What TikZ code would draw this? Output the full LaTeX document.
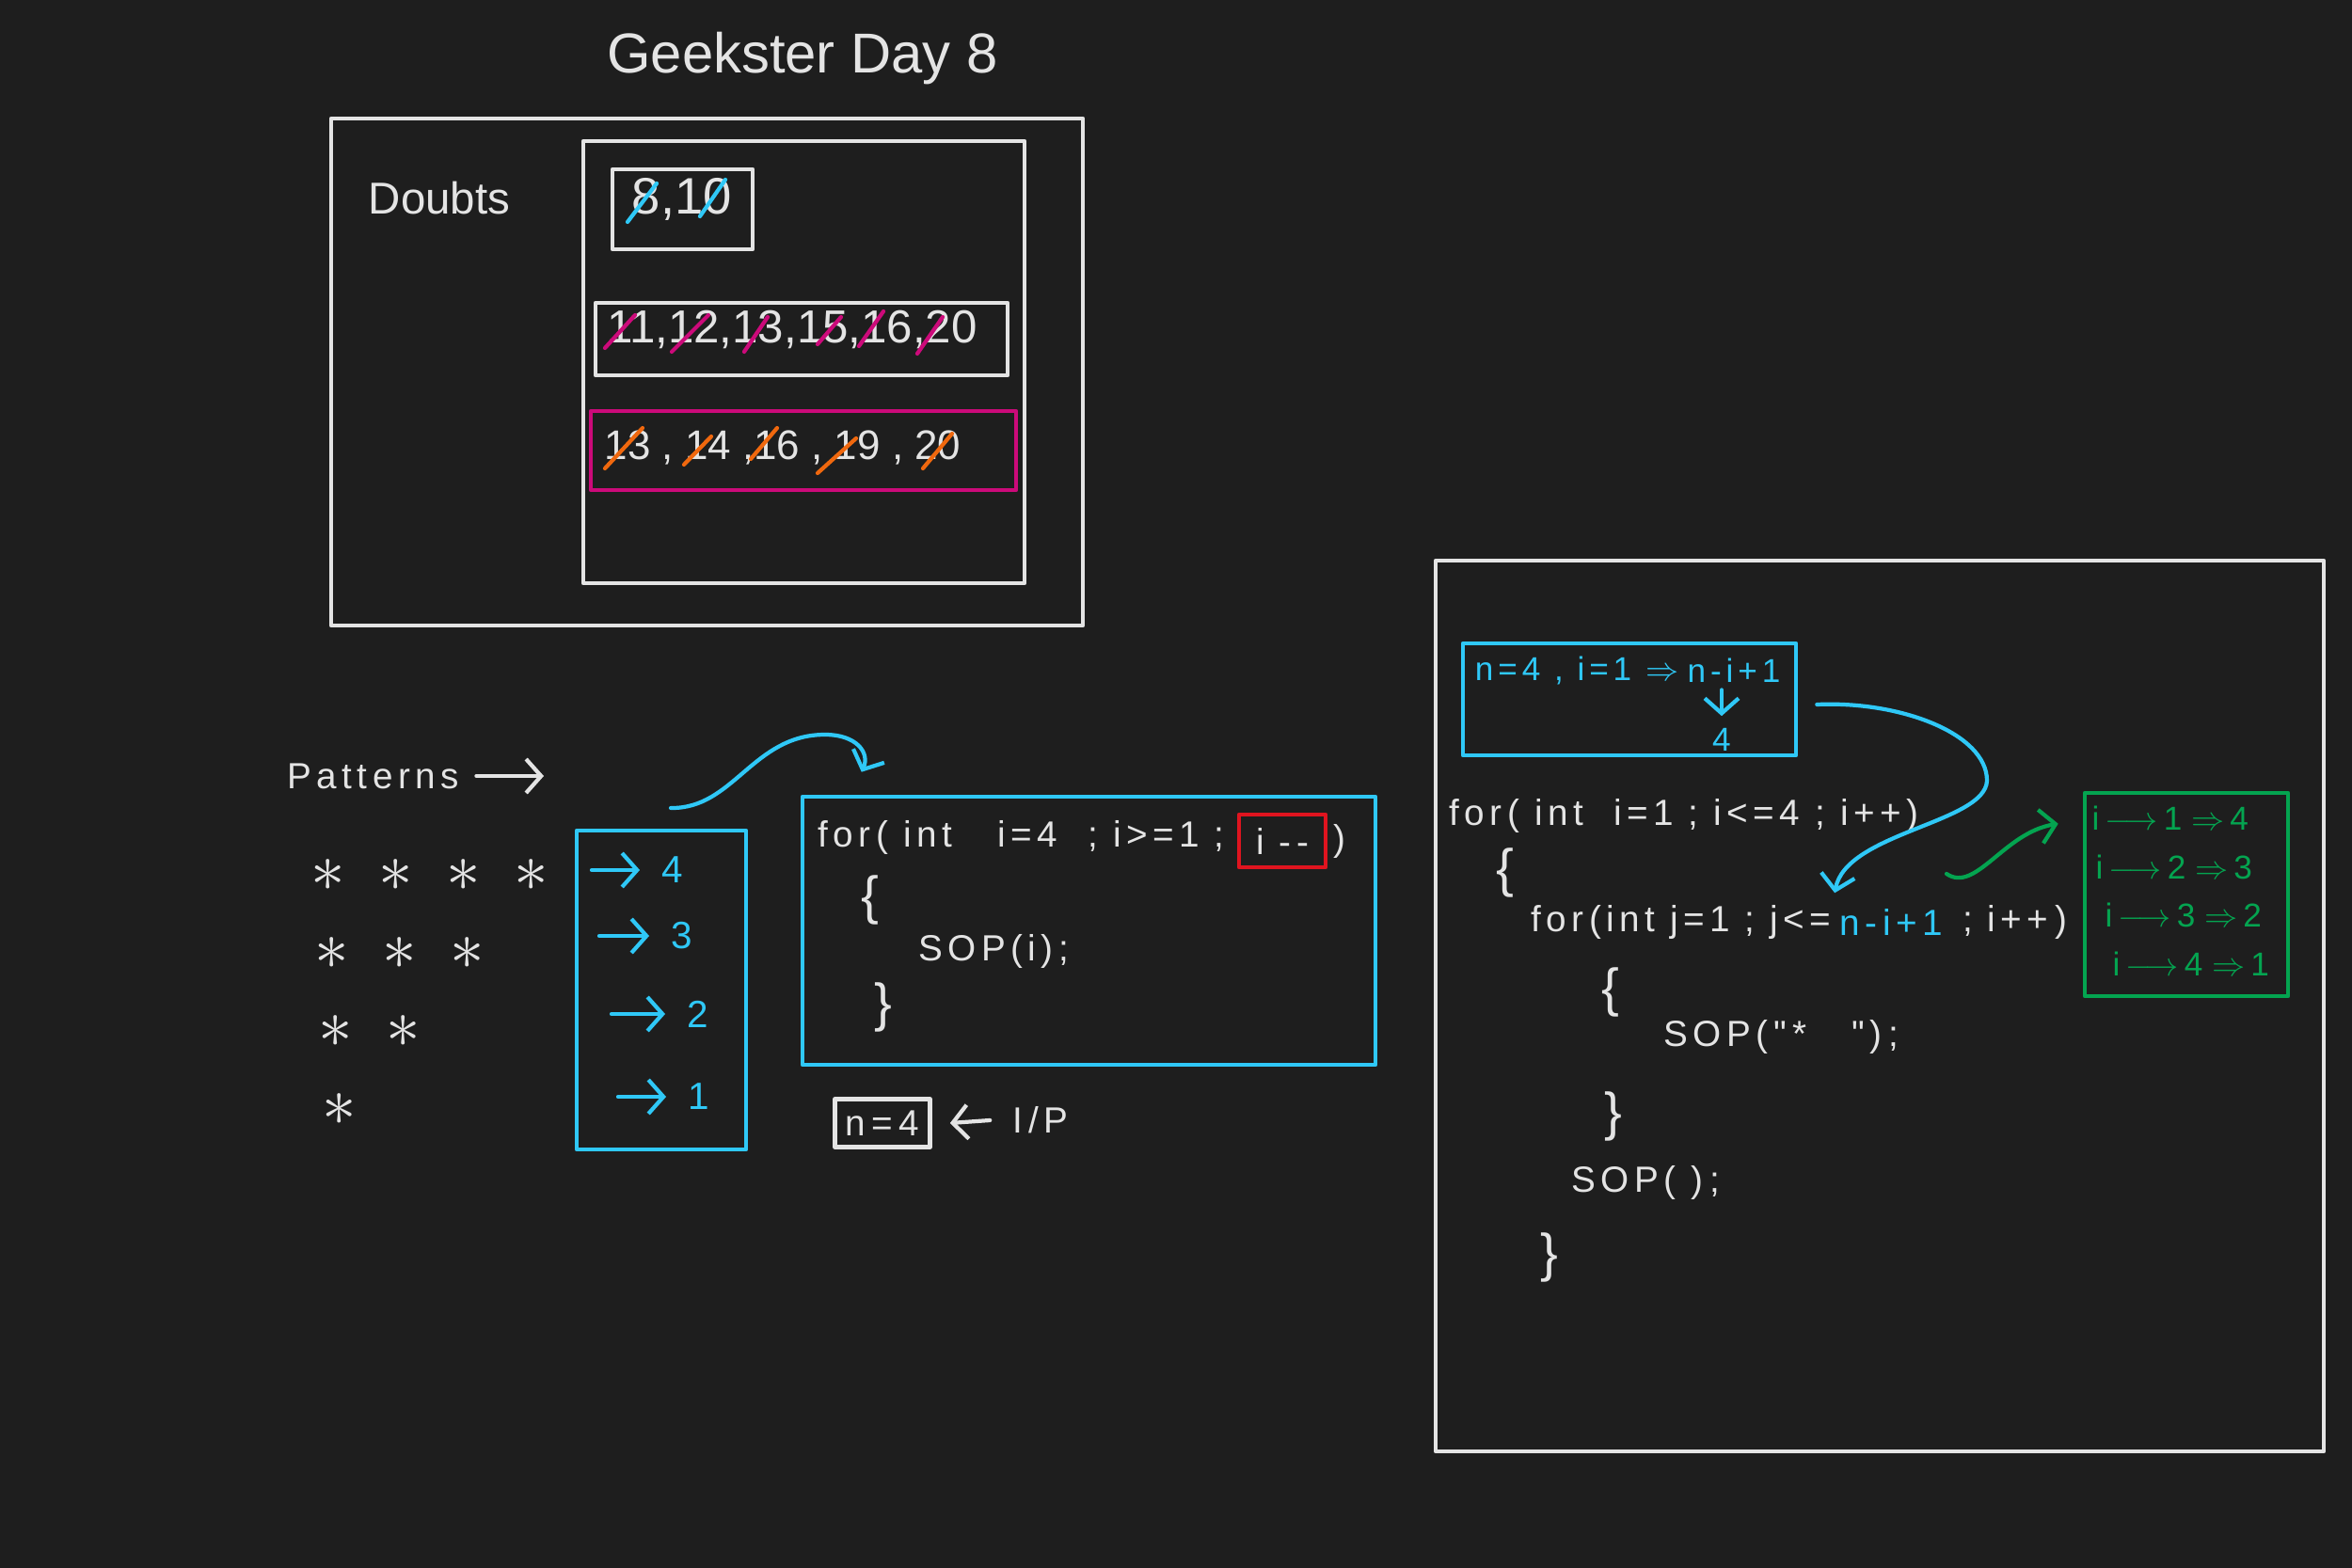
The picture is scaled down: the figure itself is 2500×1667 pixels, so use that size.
\documentclass[tikz,border=0pt]{standalone}
\usepackage{fontspec}
\setmainfont{Liberation Sans}
\newfontfamily\handfont[LetterSpace=14]{Liberation Sans}
\usetikzlibrary{arrows.meta,positioning,fit}

\definecolor{boardbg}{HTML}{1E1E1E}
\definecolor{chalk}{HTML}{E4E4E4}
\definecolor{skyink}{HTML}{2FC8F7}
\definecolor{rosebox}{HTML}{CC0A7A}
\definecolor{amberink}{HTML}{F0680E}
\definecolor{alertred}{HTML}{E0141F}
\definecolor{leafink}{HTML}{04A450}

\begin{document}
\begin{tikzpicture}[x=0.01cm,y=-0.01cm,
    boxline/.style={draw=#1, line width=1.3pt, line join=round, inner sep=0pt},
    boxline/.default=chalk,
    stroke/.style={draw=#1, line width=1.2pt, line cap=round},
    stroke/.default=chalk,
    barb/.style={-{Straight Barb[length=1.6mm,width=3.6mm]}},
    ink/.style={text=#1, inner sep=0pt},
    ink/.default=chalk,
    codetext/.style={ink=#1, font=\handfont\fontsize{11}{13}\selectfont, anchor=west},
    codetext/.default=chalk,
    bracetext/.style={ink, font=\handfont\fontsize{16}{18}\selectfont},
    starmark/.style={ink, font=\fontsize{22}{22}\selectfont},
  ]
  \fill[boardbg] (0,0) rectangle (2500,1667);
  \useasboundingbox (0,0) rectangle (2500,1667);

  % title and doubts
  \node[ink, font=\fontsize{17}{20}\selectfont] (title) at (853,62) {Geekster Day 8};
  \node[boxline, fit={(352,126)(1151,665)}] (doubtframe) {};
  \node[ink, font=\fontsize{13.5}{16}\selectfont] (doubts) at (467,211) {Doubts};
  \node[boxline, fit={(620,150)(1089,620)}] (doubtlist) {};
  \node[boxline, fit={(651,180)(800,265)}] (pairbox) {};
  \node[ink, font=\fontsize{15.5}{18}\selectfont] (pair) at (725,212) {8,10};
  \node[boxline, fit={(633,322)(1071,399)}] (setbox) {};
  \node[ink, font=\fontsize{14}{17}\selectfont] (setnums) at (842,350) {11,12,13,15,16,20};
  \node[boxline=rosebox, fit={(628,437)(1080,521)}] (recheckbox) {};
  \node[ink, font=\fontsize{12.5}{15}\selectfont] (recheck) at (832,476) {13 , 14 ,16 , 19 , 20};

  % strike-outs
  \foreach \xa/\ya/\xb/\yb in {667/236/698/195, 744/230/771/191}
    \draw[stroke=skyink] (\xa,\ya) -- (\xb,\yb);
  \foreach \xa/\ya/\xb/\yb in {643/370/675/335, 714/374/753/335, 791/374/816/337,
      869/366/894/337, 913/368/939/331, 975/376/1002/337}
    \draw[stroke=rosebox] (\xa,\ya) -- (\xb,\yb);
  \foreach \xa/\ya/\xb/\yb in {643/498/683/455, 727/494/756/464, 798/488/826/455,
      869/503/910/466, 981/498/1012/461}
    \draw[stroke=amberink] (\xa,\ya) -- (\xb,\yb);

  % pattern
  \node[codetext] (patterns) at (305,825) {Patterns};
  \coordinate (patternstip) at (578,825);
  \draw[stroke, barb] ([xshift=1.8mm]patterns.east) -- (patternstip);
  \foreach \r in {1,...,4} {
    \pgfmathtruncatemacro\n{5-\r}
    \foreach \k in {1,...,\n}
      \node[starmark] (star\r\k) at ({345+4*\r+72*(\k-1)},{931+83*(\r-1)}) {$\ast$};
  }

  % row counts
  \node[boxline=skyink, fit={(613,883)(793,1222)}] (countbox) {};
  \foreach \v/\xa/\xd/\y in {4/629/715/925, 3/637/725/995, 2/650/742/1078, 1/657/743/1166} {
    \coordinate (cs\v) at (\xa,\y);
    \node[ink=skyink, font=\fontsize{11.5}{13}\selectfont] (cnt\v) at (\xd,\y) {\v};
    \draw[stroke=skyink, barb] (cs\v) -- ([xshift=-2.3mm]cnt\v.west);
  }

  % first loop
  \node[boxline=skyink, fit={(853,847)(1462,1132)}] (codebox) {};
  \coordinate (loopcurve) at (713,859);
  \draw[stroke=skyink, barb] (loopcurve) .. controls (780,860) and (800,781) .. (877,781)
    .. controls (910,781) and (925,800) .. ([xshift=0.65cm,yshift=0.24cm]codebox.north west);
  \node[codetext] (loophead) at (869,890) {for( int\ \ \ i=4\ \ ; i>=1\ ;};
  \node[boxline=alertred, minimum width=0.92cm, minimum height=0.56cm,
    ink, font=\handfont\fontsize{11}{13}\selectfont] (decr) at (1363,894) {i -{}-};
  \node[codetext, right=0.05cm of decr] (loopclose) {)};
  \node[bracetext] (open1) at (925,957) {\{};
  \node[codetext] (printi) at (976,1011) {SOP(i);};
  \node[bracetext] (close1) at (939,1071) {\}};
  \node[boxline, minimum width=1.01cm, minimum height=0.51cm,
    ink, font=\handfont\fontsize{11}{13}\selectfont] (input) at (938,1194) {n\,=\,4};
  \node[ink, font=\handfont\fontsize{11}{13}\selectfont] (iplabel) at (1106,1191) {I/P};
  \draw[stroke, barb] ([xshift=-2.4mm]iplabel.west) -- ([xshift=1.9mm]input.east);

  % nested loops
  \node[boxline, fit={(1526,596)(2470,1543)}] (nestframe) {};
  \node[boxline=skyink, fit={(1555,684)(1909,803)}] (calcbox) {};
  \node[ink=skyink, font=\handfont\fontsize{10}{12}\selectfont] (calcexpr) at (1843,713) {n-i+1};
  \node[ink=skyink, font=\handfont\fontsize{10}{12}\selectfont, left=0.08cm of calcexpr] (calcin) {n=4 , i=1 $\Rightarrow$};
  \node[ink=skyink, font=\handfont\fontsize{10}{12}\selectfont] (calcval) at (1830,786) {4};
  \draw[stroke=skyink, barb, shorten <=0.07cm, shorten >=0.12cm] (calcval.north |- calcexpr.south) -- (calcval.north);

  \node[codetext] (outerloop) at (1540,867) {for( int\ \ i=1 ; i<=4 ; i++)};
  \node[bracetext] (open2) at (1600,928) {\{};
  \node[codetext] (innerloop) at (1627,980) {for(int j=1 ; j<=};
  \node[codetext=skyink, right=0.08cm of innerloop] (nexpr) {n-i+1};
  \node[codetext, right=0.2cm of nexpr] (innertail) {;\ i++\,)};
  \node[bracetext] (open3) at (1712,1055) {\{};
  \node[codetext] (printstar) at (1768,1102) {SOP(\,"*\ \ \ ")\,;};
  \node[bracetext] (close3) at (1715,1187) {\}};
  \node[codetext] (printline) at (1670,1257) {SOP(\ )\,;};
  \node[bracetext] (close2) at (1647,1337) {\}};

  \draw[stroke=skyink, barb] ([xshift=0.2cm,yshift=-0.055cm]calcbox.east)
    .. controls (2020,745) and (2112,780) .. (2112,830)
    .. controls (2110,875) and (1962,885) .. ([xshift=-0.05cm,yshift=0.16cm]nexpr.north west);

  % trace of inner counts
  \node[boxline=leafink, fit={(2216,843)(2432,1059)}] (tracebox) {};
  \foreach \v/\w/\x/\y in {1/4/2223/870, 2/3/2227/922, 3/2/2237/973, 4/1/2245/1025}
    \node[ink=leafink, font=\fontsize{10}{12}\selectfont, anchor=west] (trace\v) at (\x,\y)
      {i\,$\longrightarrow$\,\v\ $\Rightarrow$\,\w};
  \coordinate (tracefrom) at (2069,929);
  \draw[stroke=leafink, barb] (tracefrom) .. controls (2100,950) and (2130,885)
    .. ([xshift=-0.26cm,yshift=-0.35cm]tracebox.north west);
\end{tikzpicture}
\end{document}
